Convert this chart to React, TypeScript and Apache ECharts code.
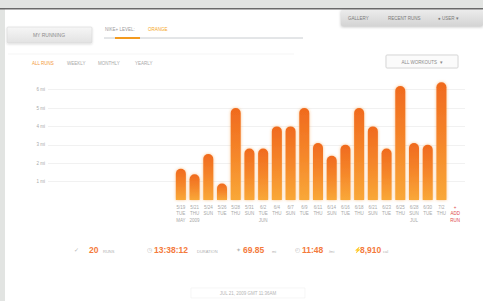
import React, { useEffect, useRef } from "react";
import * as echarts from "echarts";

const xLabels = [
  "5/19\nTUE\nMAY", "5/21\nTHU\n2009", "5/24\nSUN", "5/26\nTUE", "5/28\nTHU",
  "5/31\nSUN", "6/2\nTUE\nJUN", "6/4\nTHU", "6/7\nSUN", "6/9\nTUE",
  "6/11\nTHU", "6/14\nSUN", "6/16\nTUE", "6/18\nTHU", "6/21\nSUN",
  "6/23\nTUE", "6/25\nTHU", "6/28\nSUN\nJUL", "6/30\nTUE", "7/2\nTHU",
  "+\nADD\nRUN",
];
const distances = [
  1.7, 1.4, 2.5, 0.9, 5.0, 2.8, 2.8, 4.0, 4.0, 5.0,
  3.1, 2.4, 3.0, 5.0, 4.0, 2.8, 6.2, 3.1, 3.0, 6.4,
];
const yTicks = [1, 2, 3, 4, 5, 6];
const filterTabs = ["ALL RUNS", "WEEKLY", "MONTHLY", "YEARLY"];
const navTabs = ["GALLERY", "RECENT RUNS", "\u25CF USER \u25BE"];
const summaryValues = ["20", "13:38:12", "69.85", "11:48", "8,910"];
const summaryUnits = ["RUNS", "DURATION", "mi", "/mi", "cal"];
const summaryIcons = ["\u2713", "\u25F7", "\u2726", "\u25F4", "\u26A1"];

const FONT = "Liberation Sans, Arial, sans-serif";

export default function App() {
  const ref = useRef<HTMLDivElement>(null);
  useEffect(() => {
    if (!ref.current) return;
    const chart = echarts.init(ref.current, null, { renderer: "svg" });

    const tabX = [32, 67, 98, 135];
    const navX = [348, 388, 438];
    const iconX = [74, 147, 236, 295, 354];
    const valX = [89, 154, 243, 302, 360];
    const unitX = [103, 197, 272, 329, 383];

    const graphic: any[] = [
      { type: "rect", z: -20, shape: { x: 0, y: 0, width: 483, height: 301 }, style: { fill: "#e2e4e2" } },
      { type: "rect", z: -19, shape: { x: 5, y: 9, width: 478, height: 292 }, style: { fill: "#ffffff" } },
      { type: "rect", z: -18, shape: { x: 0, y: 8, width: 483, height: 1.5 }, style: { fill: "#6a6a6a" } },
      {
        type: "rect", z: -15, shape: { x: 7, y: 27, width: 85, height: 16, r: 1 },
        style: {
          fill: new echarts.graphic.LinearGradient(0, 0, 0, 1, [
            { offset: 0, color: "#f6f6f6" }, { offset: 1, color: "#e2e2e2" },
          ]),
          stroke: "#d6d6d6", lineWidth: 0.6, shadowBlur: 2, shadowColor: "rgba(0,0,0,0.15)", shadowOffsetY: 1,
        },
      },
      { type: "text", z: 10, style: { x: 49, y: 35, text: "MY RUNNING", fill: "#8a8a8a", font: `5px ${FONT}`, align: "center", verticalAlign: "middle" } },
      { type: "text", z: 10, style: { x: 105, y: 29, text: "NIKE+ LEVEL:", fill: "#9a9a9a", font: `4.5px ${FONT}`, verticalAlign: "middle" } },
      { type: "text", z: 10, style: { x: 148, y: 29, text: "ORANGE", fill: "#f5a623", font: `4.5px ${FONT}`, verticalAlign: "middle" } },
      { type: "line", z: 5, shape: { x1: 104, y1: 38, x2: 303, y2: 38 }, style: { stroke: "#c8ccd0", lineWidth: 1 } },
      { type: "line", z: 6, shape: { x1: 115, y1: 38, x2: 140, y2: 38 }, style: { stroke: "#f39a1f", lineWidth: 2 } },
      { type: "line", z: 5, shape: { x1: 8, y1: 54, x2: 294, y2: 54 }, style: { stroke: "#f2f2f2", lineWidth: 0.8 } },
      {
        type: "rect", z: -15, shape: { x: 341, y: 10, width: 142, height: 16, r: 1 },
        style: {
          fill: new echarts.graphic.LinearGradient(0, 0, 0, 1, [
            { offset: 0, color: "#ececec" }, { offset: 1, color: "#d4d4d4" },
          ]),
          shadowBlur: 3, shadowColor: "rgba(0,0,0,0.25)", shadowOffsetY: 1,
        },
      },
      {
        type: "rect", z: -15, shape: { x: 386, y: 55, width: 72, height: 13, r: 1 },
        style: { fill: "#fbfbfb", stroke: "#cfcfcf", lineWidth: 0.8, shadowBlur: 1, shadowColor: "rgba(0,0,0,0.1)" },
      },
      { type: "text", z: 10, style: { x: 422, y: 62, text: "ALL WORKOUTS  \u25BE", fill: "#8a8a8a", font: `4.5px ${FONT}`, align: "center", verticalAlign: "middle" } },
      { type: "rect", z: -15, shape: { x: 191, y: 288, width: 114, height: 10 }, style: { fill: "#ffffff", stroke: "#f0f0f0", lineWidth: 0.6 } },
      { type: "text", z: 10, style: { x: 248, y: 293, text: "JUL 21, 2009 GMT 11:36AM", fill: "#b5b5b5", font: `4.5px ${FONT}`, align: "center", verticalAlign: "middle" } },
    ];

    filterTabs.forEach((t, i) => {
      graphic.push({
        type: "text", z: 10,
        style: { x: tabX[i], y: 63, text: t, fill: i === 0 ? "#f39a3a" : "#a8a8a8", font: `4.5px ${FONT}`, verticalAlign: "middle" },
      });
    });
    navTabs.forEach((t, i) => {
      graphic.push({
        type: "text", z: 10,
        style: { x: navX[i], y: 18, text: t, fill: "#7a7a7a", font: `4.5px ${FONT}`, verticalAlign: "middle" },
      });
    });
    summaryValues.forEach((v, i) => {
      graphic.push({
        type: "text", z: 10,
        style: { x: iconX[i], y: 250, text: summaryIcons[i], fill: "#b8b8b8", font: `6px ${FONT}`, verticalAlign: "middle" },
      });
      graphic.push({
        type: "text", z: 10,
        style: { x: valX[i], y: 250, text: v, fill: "#f47a3c", font: `bold 8.5px ${FONT}`, verticalAlign: "middle" },
      });
      graphic.push({
        type: "text", z: 10,
        style: { x: unitX[i], y: 251, text: summaryUnits[i], fill: "#b0b0b0", font: `4px ${FONT}`, verticalAlign: "middle" },
      });
    });

    const option: any = {
      animation: false,
      graphic,
      grid: [
        { left: 48, right: 18, top: 89.6, bottom: 119.4 },
        { left: 174, right: 21, top: 80.4, bottom: 101 },
      ],
      xAxis: [
        { gridIndex: 0, type: "value", show: false, min: 0, max: 1 },
        {
          gridIndex: 1, type: "category", data: xLabels,
          axisLine: { show: false }, axisTick: { show: false },
          axisLabel: {
            interval: 0, margin: 4, fontSize: 4.5, lineHeight: 6.5, fontFamily: FONT,
            color: (_v: string, idx: number) => (idx === xLabels.length - 1 ? "#e04848" : "#a8a8a8"),
          },
        },
      ],
      yAxis: [
        {
          gridIndex: 0, type: "value", min: 1, max: 6, interval: 1,
          axisLine: { show: false }, axisTick: { show: false },
          axisLabel: {
            margin: 3, fontSize: 4.5, color: "#a8a8a8", fontFamily: FONT,
            formatter: (v: number) => (yTicks.includes(v) ? `${v} mi` : ""),
          },
          splitLine: { lineStyle: { color: "#f1f1f1", width: 1 } },
        },
        { gridIndex: 1, type: "value", min: 0, max: 6.5, show: false, splitLine: { show: false } },
      ],
      series: [
        {
          type: "bar", xAxisIndex: 1, yAxisIndex: 1, data: distances, barWidth: 10,
          itemStyle: {
            borderRadius: [5, 5, 0, 0],
            color: new echarts.graphic.LinearGradient(0, 0, 0, 1, [
              { offset: 0, color: "#f06a1e" },
              { offset: 0.5, color: "#f5862a" },
              { offset: 1, color: "#f9a838" },
            ]),
            shadowBlur: 3, shadowColor: "rgba(245,140,40,0.55)",
          },
        },
      ],
    };
    chart.setOption(option);
    return () => chart.dispose();
  }, []);
  return <div ref={ref} style={{ position: "absolute", left: 0, top: 0, width: 483, height: 301 }} />;
}
